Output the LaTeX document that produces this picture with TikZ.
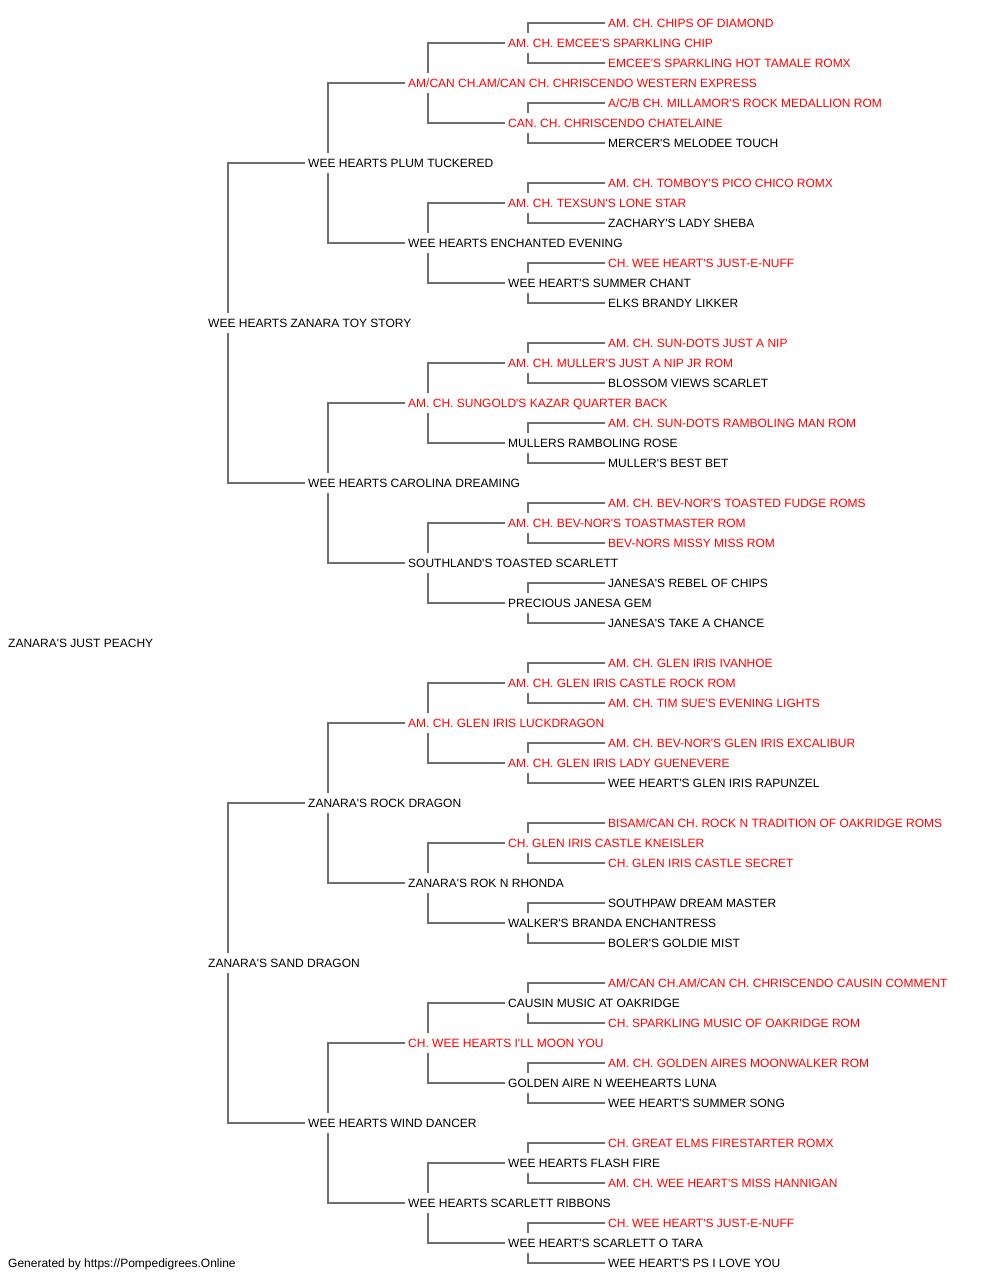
\documentclass[tikz,border=0pt]{standalone}
\usepackage{fontspec}
\newfontfamily\pedfont{Liberation Sans}
\usepackage{tikz}
\def\parents(#1)(#2)(#3){\draw[link] ([xshift=23]#1.north west) |- (#2.west); \draw[link] ([xshift=23]#1.south west) |- (#3.west);}

\begin{document}
\begin{tikzpicture}[x=1pt,y=-1pt,
	dog/.style={anchor=west,inner xsep=3pt,inner ysep=0pt,text height=14pt,text depth=5.4pt,font=\pedfont\fontsize{12}{14}\selectfont},
	titled/.style={dog,text=red},
	link/.style={draw=black!57,line width=1.6pt}]
				%%%%% PAGE %%%%%
				\useasboundingbox (0,0) rectangle (1000,1280);
				\def\gzero{5}
				\def\gone{205}
				\def\gtwo{305}
				\def\gthree{405}
				\def\gfour{505}
				\def\gfive{605}

				\node[dog] (dog) at (\gzero,643) {ZANARA'S JUST PEACHY};

				\node[dog] (s) at (\gone,323) {WEE HEARTS ZANARA TOY STORY};
				\node[dog] (d) at (\gone,963) {ZANARA'S SAND DRAGON};

				\node[dog] (ss) at (\gtwo,163) {WEE HEARTS PLUM TUCKERED};
				\node[dog] (sd) at (\gtwo,483) {WEE HEARTS CAROLINA DREAMING};
				\node[dog] (ds) at (\gtwo,803) {ZANARA'S ROCK DRAGON};
				\node[dog] (dd) at (\gtwo,1123) {WEE HEARTS WIND DANCER};

				\node[titled] (sss) at (\gthree,83) {AM/CAN CH.AM/CAN CH. CHRISCENDO WESTERN EXPRESS};
				\node[dog] (ssd) at (\gthree,243) {WEE HEARTS ENCHANTED EVENING};
				\node[titled] (sds) at (\gthree,403) {AM. CH. SUNGOLD'S KAZAR QUARTER BACK};
				\node[dog] (sdd) at (\gthree,563) {SOUTHLAND'S TOASTED SCARLETT};
				\node[titled] (dss) at (\gthree,723) {AM. CH. GLEN IRIS LUCKDRAGON};
				\node[dog] (dsd) at (\gthree,883) {ZANARA'S ROK N RHONDA};
				\node[titled] (dds) at (\gthree,1043) {CH. WEE HEARTS I'LL MOON YOU};
				\node[dog] (ddd) at (\gthree,1203) {WEE HEARTS SCARLETT RIBBONS};

				\node[titled] (ssss) at (\gfour,43) {AM. CH. EMCEE'S SPARKLING CHIP};
				\node[titled] (sssd) at (\gfour,123) {CAN. CH. CHRISCENDO CHATELAINE};
				\node[titled] (ssds) at (\gfour,203) {AM. CH. TEXSUN'S LONE STAR};
				\node[dog] (ssdd) at (\gfour,283) {WEE HEART'S SUMMER CHANT};
				\node[titled] (sdss) at (\gfour,363) {AM. CH. MULLER'S JUST A NIP JR ROM};
				\node[dog] (sdsd) at (\gfour,443) {MULLERS RAMBOLING ROSE};
				\node[titled] (sdds) at (\gfour,523) {AM. CH. BEV-NOR'S TOASTMASTER ROM};
				\node[dog] (sddd) at (\gfour,603) {PRECIOUS JANESA GEM};
				\node[titled] (dsss) at (\gfour,683) {AM. CH. GLEN IRIS CASTLE ROCK ROM};
				\node[titled] (dssd) at (\gfour,763) {AM. CH. GLEN IRIS LADY GUENEVERE};
				\node[titled] (dsds) at (\gfour,843) {CH. GLEN IRIS CASTLE KNEISLER};
				\node[dog] (dsdd) at (\gfour,923) {WALKER'S BRANDA ENCHANTRESS};
				\node[dog] (ddss) at (\gfour,1003) {CAUSIN MUSIC AT OAKRIDGE};
				\node[dog] (ddsd) at (\gfour,1083) {GOLDEN AIRE N WEEHEARTS LUNA};
				\node[dog] (ddds) at (\gfour,1163) {WEE HEARTS FLASH FIRE};
				\node[dog] (dddd) at (\gfour,1243) {WEE HEART'S SCARLETT O TARA};

				\node[titled] (sssss) at (\gfive,23) {AM. CH. CHIPS OF DIAMOND};
				\node[titled] (ssssd) at (\gfive,63) {EMCEE'S SPARKLING HOT TAMALE ROMX};
				\node[titled] (sssds) at (\gfive,103) {A/C/B CH. MILLAMOR'S ROCK MEDALLION ROM};
				\node[dog] (sssdd) at (\gfive,143) {MERCER'S MELODEE TOUCH};
				\node[titled] (ssdss) at (\gfive,183) {AM. CH. TOMBOY'S PICO CHICO ROMX};
				\node[dog] (ssdsd) at (\gfive,223) {ZACHARY'S LADY SHEBA};
				\node[titled] (ssdds) at (\gfive,263) {CH. WEE HEART'S JUST-E-NUFF};
				\node[dog] (ssddd) at (\gfive,303) {ELKS BRANDY LIKKER};
				\node[titled] (sdsss) at (\gfive,343) {AM. CH. SUN-DOTS JUST A NIP};
				\node[dog] (sdssd) at (\gfive,383) {BLOSSOM VIEWS SCARLET};
				\node[titled] (sdsds) at (\gfive,423) {AM. CH. SUN-DOTS RAMBOLING MAN ROM};
				\node[dog] (sdsdd) at (\gfive,463) {MULLER'S BEST BET};
				\node[titled] (sddss) at (\gfive,503) {AM. CH. BEV-NOR'S TOASTED FUDGE ROMS};
				\node[titled] (sddsd) at (\gfive,543) {BEV-NORS MISSY MISS ROM};
				\node[dog] (sddds) at (\gfive,583) {JANESA'S REBEL OF CHIPS};
				\node[dog] (sdddd) at (\gfive,623) {JANESA'S TAKE A CHANCE};
				\node[titled] (dssss) at (\gfive,663) {AM. CH. GLEN IRIS IVANHOE};
				\node[titled] (dsssd) at (\gfive,703) {AM. CH. TIM SUE'S EVENING LIGHTS};
				\node[titled] (dssds) at (\gfive,743) {AM. CH. BEV-NOR'S GLEN IRIS EXCALIBUR};
				\node[dog] (dssdd) at (\gfive,783) {WEE HEART'S GLEN IRIS RAPUNZEL};
				\node[titled] (dsdss) at (\gfive,823) {BISAM/CAN CH. ROCK N TRADITION OF OAKRIDGE ROMS};
				\node[titled] (dsdsd) at (\gfive,863) {CH. GLEN IRIS CASTLE SECRET};
				\node[dog] (dsdds) at (\gfive,903) {SOUTHPAW DREAM MASTER};
				\node[dog] (dsddd) at (\gfive,943) {BOLER'S GOLDIE MIST};
				\node[titled] (ddsss) at (\gfive,983) {AM/CAN CH.AM/CAN CH. CHRISCENDO CAUSIN COMMENT};
				\node[titled] (ddssd) at (\gfive,1023) {CH. SPARKLING MUSIC OF OAKRIDGE ROM};
				\node[titled] (ddsds) at (\gfive,1063) {AM. CH. GOLDEN AIRES MOONWALKER ROM};
				\node[dog] (ddsdd) at (\gfive,1103) {WEE HEART'S SUMMER SONG};
				\node[titled] (dddss) at (\gfive,1143) {CH. GREAT ELMS FIRESTARTER ROMX};
				\node[titled] (dddsd) at (\gfive,1183) {AM. CH. WEE HEART'S MISS HANNIGAN};
				\node[titled] (dddds) at (\gfive,1223) {CH. WEE HEART'S JUST-E-NUFF};
				\node[dog] (ddddd) at (\gfive,1263) {WEE HEART'S PS I LOVE YOU};

				%%%%% LINES %%%%%
				\parents(s)(ss)(sd)
				\parents(d)(ds)(dd)

				\parents(ss)(sss)(ssd)
				\parents(sd)(sds)(sdd)
				\parents(ds)(dss)(dsd)
				\parents(dd)(dds)(ddd)

				\parents(sss)(ssss)(sssd)
				\parents(ssd)(ssds)(ssdd)
				\parents(sds)(sdss)(sdsd)
				\parents(sdd)(sdds)(sddd)
				\parents(dss)(dsss)(dssd)
				\parents(dsd)(dsds)(dsdd)
				\parents(dds)(ddss)(ddsd)
				\parents(ddd)(ddds)(dddd)

				\parents(ssss)(sssss)(ssssd)
				\parents(sssd)(sssds)(sssdd)
				\parents(ssds)(ssdss)(ssdsd)
				\parents(ssdd)(ssdds)(ssddd)
				\parents(sdss)(sdsss)(sdssd)
				\parents(sdsd)(sdsds)(sdsdd)
				\parents(sdds)(sddss)(sddsd)
				\parents(sddd)(sddds)(sdddd)
				\parents(dsss)(dssss)(dsssd)
				\parents(dssd)(dssds)(dssdd)
				\parents(dsds)(dsdss)(dsdsd)
				\parents(dsdd)(dsdds)(dsddd)
				\parents(ddss)(ddsss)(ddssd)
				\parents(ddsd)(ddsds)(ddsdd)
				\parents(ddds)(dddss)(dddsd)
				\parents(dddd)(dddds)(ddddd)

				\node[dog] (credit) at (\gzero,1263) {Generated by https://Pompedigrees.Online};
				%%%%% LINES %%%%%
			\end{tikzpicture}
\end{document}
